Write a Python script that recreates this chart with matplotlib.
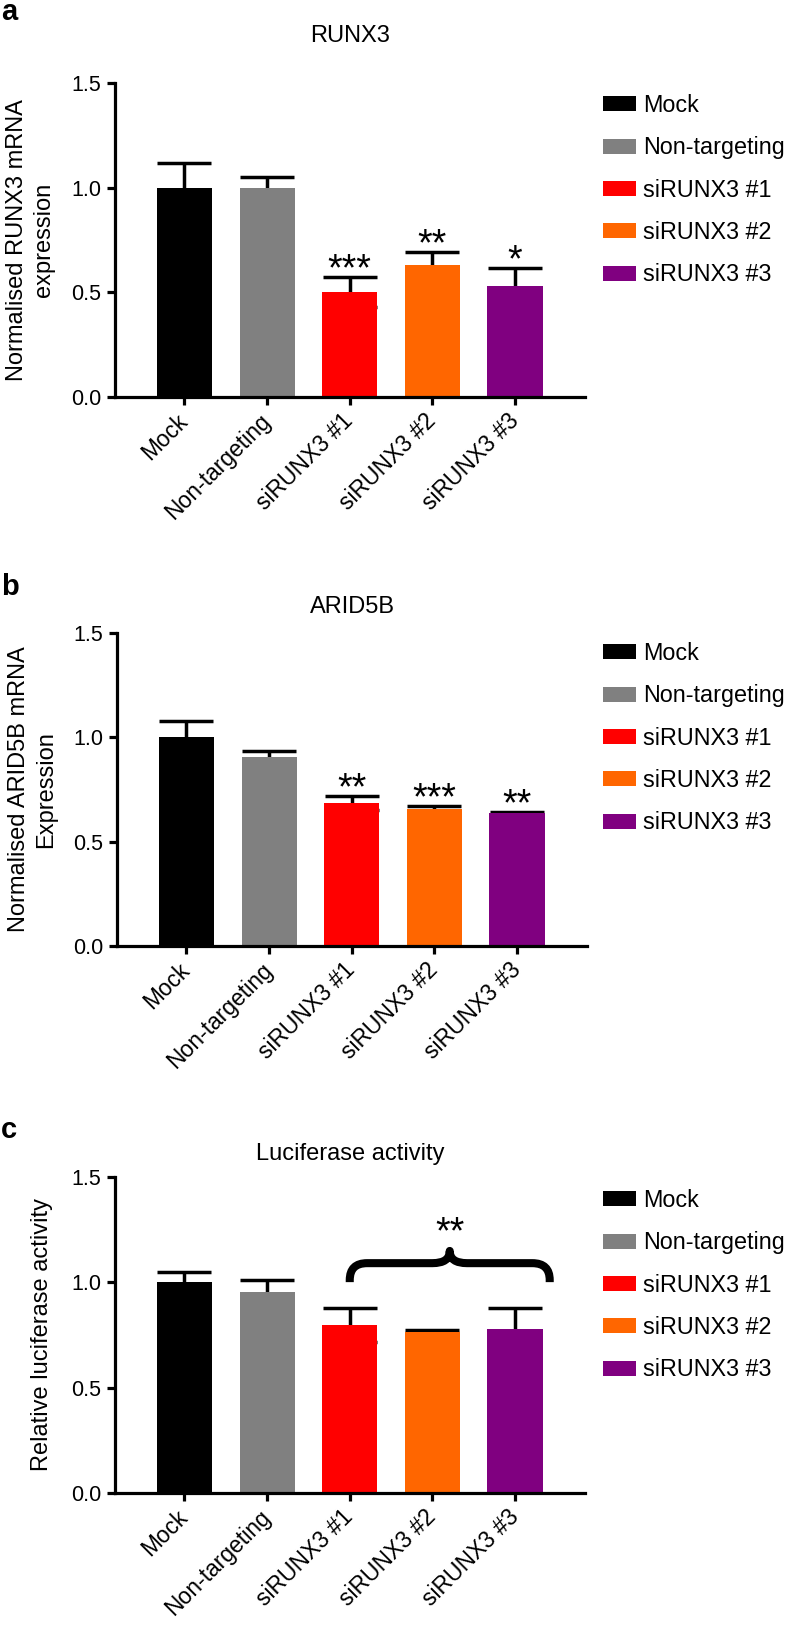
"""Figure RUNX3 / ARID5B / luciférase — trois panneaux de barres (style Prism)."""

import matplotlib
matplotlib.use("Agg")
import matplotlib.pyplot as plt
from matplotlib.patches import Patch, PathPatch
from matplotlib.path import Path

plt.rcParams["font.family"] = ["Liberation Sans", "DejaVu Sans"]

# ---------------------------------------------------------------------------
# Données
# ---------------------------------------------------------------------------

CATEGORIES = ["Mock", "Non-targeting", "siRUNX3 #1", "siRUNX3 #2", "siRUNX3 #3"]
COULEURS = ["#000000", "#808080", "#ff0000", "#ff6600", "#800080"]

RUNX3_MOY = [1.00, 1.00, 0.50, 0.632, 0.528]
RUNX3_ERR = [0.117, 0.050, 0.072, 0.060, 0.088]
RUNX3_SIG = ["", "", "***", "**", "*"]

ARID5B_MOY = [1.00, 0.904, 0.684, 0.658, 0.636]
ARID5B_ERR = [0.079, 0.028, 0.033, 0.012, 0.006]
ARID5B_SIG = ["", "", "**", "***", "**"]

LUC_MOY = [1.00, 0.954, 0.796, 0.765, 0.776]
LUC_ERR = [0.050, 0.056, 0.080, 0.006, 0.100]
LUC_SIG = "**"          # siRUNX3 #1-#3 regroupés sous une accolade

Y_TICKS = [0.0, 0.5, 1.0, 1.5]

# ---------------------------------------------------------------------------
# Mise en page (pixels de la figure 788 x 1626)
# ---------------------------------------------------------------------------

W, H = 788, 1626
FS = 17
FS_LEG = 16.8
FS_TICK_X = 16.5
FS_TICK_Y = 15.5
FS_ETOILE = 27

fig = plt.figure(figsize=(W / 100, H / 100), dpi=100)


def axes_px(gauche, haut, droite, bas):
    return fig.add_axes([gauche / W, 1 - bas / H, (droite - gauche) / W, (bas - haut) / H])


def texte_px(x, y, s, **kw):
    fig.text(x / W, 1 - y / H, s, **kw)


def tracer_panneau(ax, moy, err, ylabel, label_x):
    x = list(range(len(CATEGORIES)))
    # barres d'erreur derrière les barres : seule la moitié haute reste visible
    ax.errorbar(x, moy, yerr=err, fmt="none", ecolor="black", elinewidth=2.5,
                capsize=19.5, capthick=2.5, zorder=1)
    ax.bar(x, moy, width=0.666, color=COULEURS, linewidth=0, zorder=2)
    ax.set_xlim(-0.841, 4.847)
    ax.set_ylim(0, 1.5)
    ax.set_yticks(Y_TICKS)
    ax.set_yticklabels([f"{v:.1f}" for v in Y_TICKS], fontsize=FS_TICK_Y)
    ax.set_xticks(x)
    ax.set_xticklabels(CATEGORIES, rotation=45, ha="right", va="center",
                       rotation_mode="anchor", fontsize=FS_TICK_X)
    for s in ("top", "right"):
        ax.spines[s].set_visible(False)
    for s in ("left", "bottom"):
        ax.spines[s].set_linewidth(2.3)
    ax.tick_params(length=5.8, width=2.3, color="black", pad=4)
    ax.tick_params(axis="x", pad=9)
    ax.set_ylabel(ylabel, fontsize=FS, linespacing=1.3)
    ax.yaxis.set_label_coords(label_x, 0.5)


def etoiles(ax, moy, err, sig):
    for i, s in enumerate(sig):
        if s:
            ax.annotate(s, (i, moy[i] + err[i]), xytext=(0, 13 - 0.57 * FS_ETOILE),
                        textcoords="offset points", ha="center", va="baseline",
                        fontsize=FS_ETOILE, zorder=3)


def legende(ax, haut):
    poignees = [Patch(facecolor=c, edgecolor="none") for c in COULEURS]
    ax.legend(poignees, CATEGORIES, loc="upper left",
              bbox_to_anchor=(603 / W, 1 - haut / H), bbox_transform=fig.transFigure,
              frameon=False, borderpad=0, borderaxespad=0, handlelength=1.4,
              handleheight=0.6, handletextpad=0.3, labelspacing=0.83, fontsize=FS_LEG)


def accolade(ax, x0, x1, y0, y_h, y_pic, rx, ry):
    xm = (x0 + x1) / 2
    sommets = [(x0, y0), (x0, y_h - ry), (x0, y_h), (x0 + rx, y_h),
               (xm - rx, y_h), (xm, y_h), (xm, y_pic),
               (xm, y_h), (xm + rx, y_h),
               (x1 - rx, y_h), (x1, y_h), (x1, y_h - ry), (x1, y0)]
    codes = [Path.MOVETO, Path.LINETO, Path.CURVE3, Path.CURVE3,
             Path.LINETO, Path.CURVE3, Path.CURVE3,
             Path.CURVE3, Path.CURVE3,
             Path.LINETO, Path.CURVE3, Path.CURVE3, Path.LINETO]
    ax.add_patch(PathPatch(Path(sommets, codes), facecolor="none", edgecolor="black",
                           lw=5.8, capstyle="butt", joinstyle="round", zorder=3))
    return xm


# ---------------------------------------------------------------------------
# Panneau a : RUNX3
# ---------------------------------------------------------------------------

ax_a = axes_px(115, 83, 585, 397)
tracer_panneau(ax_a, RUNX3_MOY, RUNX3_ERR, "Normalised RUNX3 mRNA\nexpression", -0.128)
etoiles(ax_a, RUNX3_MOY, RUNX3_ERR, RUNX3_SIG)
legende(ax_a, 94)
texte_px(350, 41.5, "RUNX3", ha="center", va="baseline", fontsize=FS)
texte_px(1, 20, "a", ha="left", va="baseline", fontsize=21, fontweight="bold")

# ---------------------------------------------------------------------------
# Panneau b : ARID5B
# ---------------------------------------------------------------------------

ax_b = axes_px(117, 632.7, 587, 946.3)
tracer_panneau(ax_b, ARID5B_MOY, ARID5B_ERR, "Normalised ARID5B mRNA\nExpression", -0.128)
etoiles(ax_b, ARID5B_MOY, ARID5B_ERR, ARID5B_SIG)
legende(ax_b, 642)
texte_px(352, 613, "ARID5B", ha="center", va="baseline", fontsize=FS)
texte_px(1, 595, "b", ha="left", va="baseline", fontsize=21, fontweight="bold")

# ---------------------------------------------------------------------------
# Panneau c : activité luciférase
# ---------------------------------------------------------------------------

ax_c = axes_px(115, 1176.7, 585, 1493)
tracer_panneau(ax_c, LUC_MOY, LUC_ERR, "Relative luciferase activity", -0.132)
xm = accolade(ax_c, 2.0, 4.42, 1.0, 1.09, 1.148, 0.21, 0.08)
ax_c.text(xm, 1.232, LUC_SIG, ha="center", va="center", fontsize=FS_ETOILE)
legende(ax_c, 1189)
texte_px(350, 1160, "Luciferase activity", ha="center", va="baseline", fontsize=FS)
texte_px(1, 1138, "c", ha="left", va="baseline", fontsize=21, fontweight="bold")

fig.savefig("out.png", dpi=100)
